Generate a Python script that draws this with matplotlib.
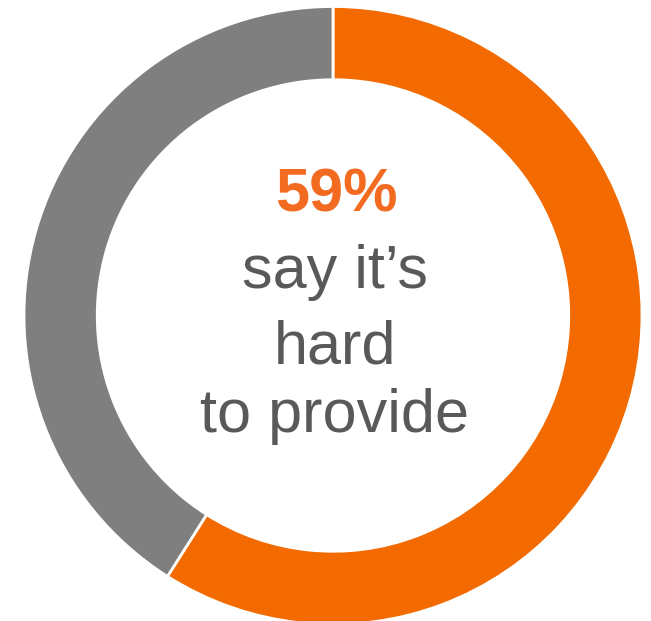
import matplotlib.pyplot as plt

labels = ["Hard to provide", "Other"]
values = [59, 41]
colors = ["#F26A00", "#7F7F7F"]

headline = "59%"
caption_lines = ["say it\u2019s", "hard", "to provide"]

W, H = 651, 621
fig = plt.figure(figsize=(W / 100, H / 100), dpi=100)

# donut centre and radius in pixels
cx, cy, R = 333, 315.5, 309
ax = fig.add_axes([(cx - R) / W, (H - cy - R) / H, 2 * R / W, 2 * R / H])
ax.pie(values, colors=colors, startangle=90, counterclock=False,
       radius=1, wedgeprops=dict(width=0.237, edgecolor="white", linewidth=2))
ax.set_xlim(-1, 1)
ax.set_ylim(-1, 1)
ax.set_aspect("equal")
ax.axis("off")

font = "Liberation Sans"
fig.text(336 / W, 1 - 212 / H, headline, ha="center", va="baseline",
         fontsize=44, fontweight="bold", color="#F26B21", family=font)
for line, base in zip(caption_lines, [288, 363, 432]):
    fig.text(335 / W, 1 - base / H, line, ha="center", va="baseline",
             fontsize=44, color="#595959", family=font)

fig.savefig("out.png", dpi=100)
